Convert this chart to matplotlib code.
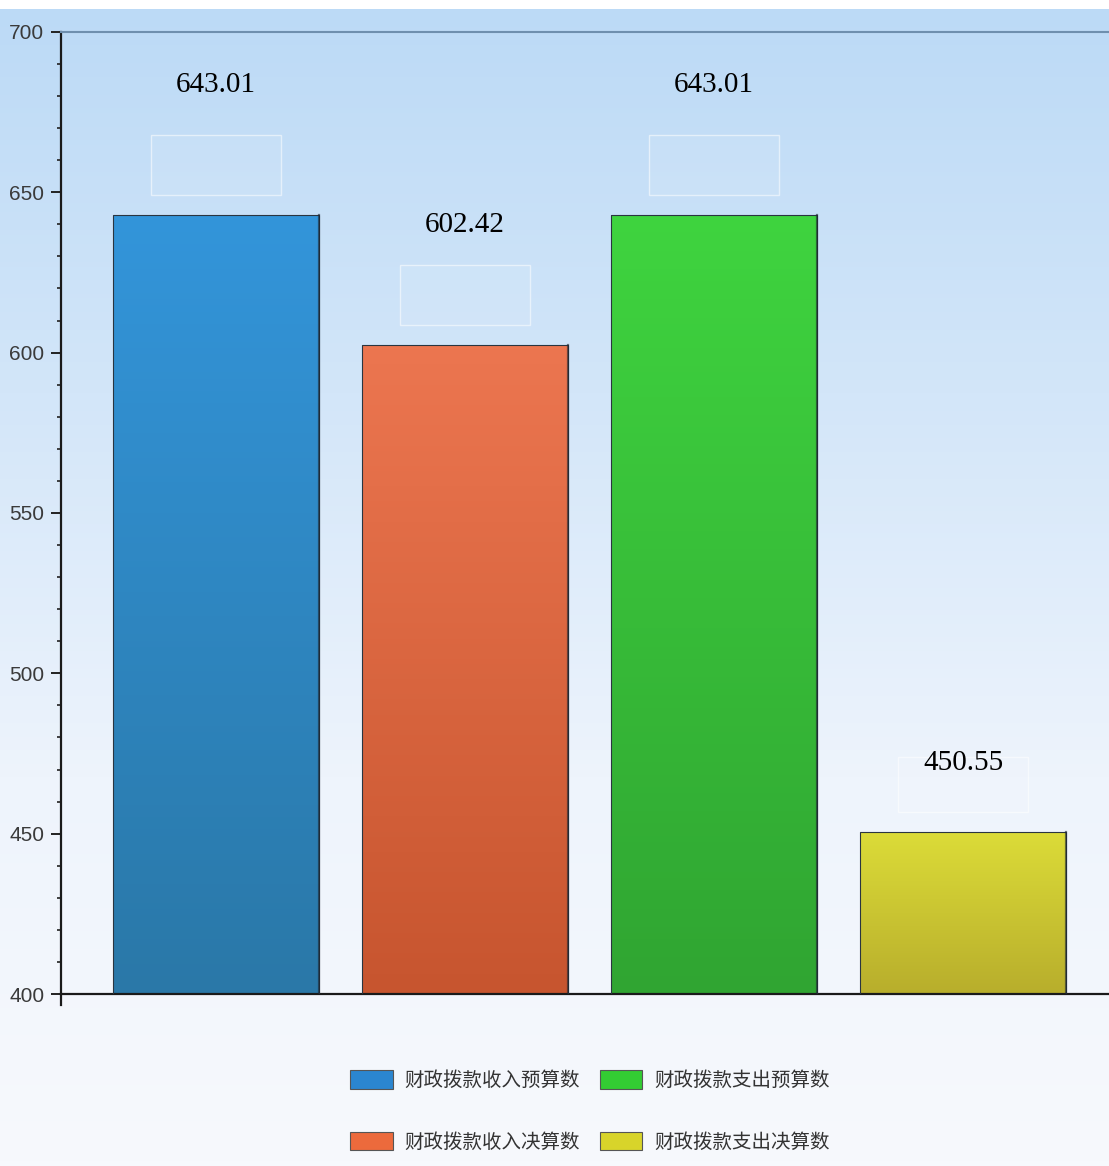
import numpy as np
import matplotlib.pyplot as plt
import matplotlib.colors as mcolors
from matplotlib.patches import Rectangle

plt.rcParams['font.family'] = ['Noto Sans CJK SC', 'DejaVu Sans']

# data
categories = ["财政拨款收入预算数", "财政拨款收入决算数", "财政拨款支出预算数", "财政拨款支出决算数"]
values = [643.01, 602.42, 643.01, 450.55]
value_labels = ["643.01", "602.42", "643.01", "450.55"]

# top / bottom colours of each bar
top_colors = ["#3395da", "#ec7650", "#3fd43f", "#dcdc38"]
bottom_colors = ["#2a78a8", "#c7552f", "#30a532", "#b8ae2c"]
legend_colors = ["#2b86d0", "#ec6a3c", "#33cc33", "#d8d42a"]

fig = plt.figure(figsize=(11.09, 11.66), dpi=100)

# background gradient for the whole picture
bg = fig.add_axes([0, 0, 1, 1], zorder=-10)
grad_bg = mcolors.LinearSegmentedColormap.from_list(
    "bg", ["#f7f9fd", "#eef4fc", "#d3e6f9", "#bcdaf6"])
bg.imshow(np.linspace(0, 1, 256).reshape(-1, 1), cmap=grad_bg, aspect="auto",
          origin="lower", extent=(0, 1, 0, 0.992))
bg.set_xlim(0, 1)
bg.set_ylim(0, 1)
bg.axis("off")

ax = fig.add_axes([0.055, 0.1475, 0.945, 0.8251])
ax.patch.set_alpha(0)

x = np.arange(len(values))
width = 0.83
bars = ax.bar(x, np.array(values) - 400, width, bottom=400, color="none",
              edgecolor="#2a3540", linewidth=0.8, zorder=3)

for bar, c0, c1 in zip(bars, top_colors, bottom_colors):
    cmap = mcolors.LinearSegmentedColormap.from_list("b", [c1, c0])
    x0, y0 = bar.get_x(), bar.get_y()
    im = ax.imshow(np.linspace(0, 1, 128).reshape(-1, 1), cmap=cmap,
                   aspect="auto", origin="lower",
                   extent=(x0, x0 + bar.get_width(), y0, y0 + bar.get_height()),
                   zorder=2)
    im.set_clip_path(bar)
    # darker shade along the right edge
    ax.plot([x0 + bar.get_width()] * 2, [y0, y0 + bar.get_height()],
            color="#1c2530", linewidth=1.6, alpha=0.6, zorder=4)

# value labels with the faint empty boxes under them
text_px = [130, 120, 130, 69]
px = 300 / 962
for bar, lab, off in zip(bars, value_labels, text_px):
    cx = bar.get_x() + bar.get_width() / 2
    top = bar.get_y() + bar.get_height()
    ax.annotate(lab, (cx, top), xytext=(0, off), textcoords="offset pixels",
                ha="center", va="center", fontsize=21,
                family=["Liberation Serif", "DejaVu Serif"], color="black",
                zorder=5)
    box_h = 60 if off > 100 else 55
    ax.add_patch(Rectangle((cx - 0.26, top + 20 * px), 0.52, box_h * px,
                           facecolor="white", alpha=0.07, edgecolor="none",
                           zorder=1))
    ax.add_patch(Rectangle((cx - 0.26, top + 20 * px), 0.52, box_h * px,
                           facecolor="none", edgecolor="white", alpha=0.55,
                           linewidth=1.0, zorder=1))

ax.set_xlim(-0.622, 3.586)
ax.set_ylim(400, 700)
ax.set_yticks(range(400, 701, 50))
ax.set_yticks(range(400, 701, 10), minor=True)
ax.set_xticks([])
ax.tick_params(axis="y", which="major", length=7, width=1.4, color="#222222",
               labelsize=15, labelcolor="#3a3a3a", pad=5)
ax.tick_params(axis="y", which="minor", length=3, width=1.2, color="#222222")
for t in ax.get_yticklabels():
    t.set_family(["Liberation Sans", "DejaVu Sans"])

ax.spines["right"].set_visible(False)
ax.spines["top"].set_color("#6f8fae")
ax.spines["top"].set_linewidth(1.5)
ax.spines["bottom"].set_color("#1a1a1a")
ax.spines["bottom"].set_linewidth(1.6)
ax.spines["left"].set_color("#1a1a1a")
ax.spines["left"].set_linewidth(1.6)
ax.spines["left"].set_bounds(396.5, 700)

handles = [Rectangle((0, 0), 1, 1, facecolor=c, edgecolor="#555555", linewidth=0.8)
           for c in legend_colors]
leg = fig.legend(handles, categories, ncol=2, loc="center",
                 bbox_to_anchor=(0.532, 0.047), frameon=False, fontsize=14,
                 handlelength=2.2, handleheight=1.1, handletextpad=0.6,
                 columnspacing=1.0, labelspacing=2.1)
for t in leg.get_texts():
    t.set_color("#333333")

fig.savefig("out.png", dpi=100)
